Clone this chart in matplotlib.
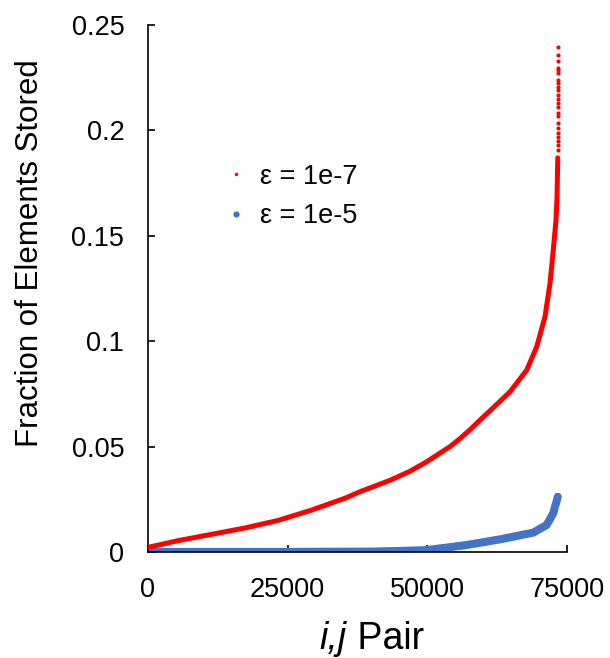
import numpy as np
import matplotlib
matplotlib.use('Agg')
import matplotlib.pyplot as plt
from matplotlib.lines import Line2D

plt.rcParams['font.family'] = ['Liberation Sans', 'DejaVu Sans']

# red curve, eps = 1e-7
red_x = [0, 5420, 11400, 17360, 23320, 29300, 35260, 37950, 43320, 46900, 49880, 54060, 55850, 57640, 59430,
         61220, 64800, 67790, 69580, 71060, 71960, 72550, 73030, 73210, 73350]
red_y = [0.0022, 0.0054, 0.0084, 0.0114, 0.0150, 0.0199, 0.0255, 0.0286, 0.0340, 0.0383, 0.0428, 0.0500, 0.0538, 0.0580, 0.0626,
         0.0670, 0.0760, 0.0863, 0.0974, 0.1116, 0.1275, 0.1433, 0.1575, 0.1680, 0.1870]
# the scattered dots at the very top end
red_top_x = 73400
red_top_y = [0.2396, 0.2358, 0.2331, 0.2296, 0.2285, 0.2273, 0.2239, 0.2225, 0.2206, 0.2190,
             0.2170, 0.2150, 0.2130, 0.2110, 0.2083, 0.2068, 0.2035, 0.2010, 0.1990, 0.1970,
             0.1950, 0.1930, 0.1907]

# blue curve, eps = 1e-5
blue_x = [0, 20000, 40000, 45110, 49880, 57040, 63010, 68970, 71360, 72550, 72850, 73140, 73340]
blue_y = [0.0, 0.0, 0.0002, 0.0005, 0.0009, 0.0033, 0.0060, 0.0092, 0.0128, 0.0184, 0.0215, 0.0240, 0.0262]

x_ticks = [0, 25000, 50000, 75000]
y_ticks = [0, 0.05, 0.1, 0.15, 0.2, 0.25]
y_tick_labels = ['0', '0.05', '0.1', '0.15', '0.2', '0.25']

red = '#FF0000'
blue = '#4472C4'

fig = plt.figure(figsize=(6.1, 6.58), dpi=100)
ax = fig.add_axes([0.2426, 0.1611, 0.6869, 0.8009])

ax.plot(blue_x, blue_y, color=blue, lw=5.8, solid_capstyle='round', solid_joinstyle='round', zorder=2)
ax.plot(red_x, red_y, color=red, lw=3.6, solid_capstyle='round', solid_joinstyle='round', zorder=3)
ax.scatter([red_top_x] * len(red_top_y), red_top_y, s=9, color=red, lw=0, zorder=3)

ax.set_xlim(0, 75000)
ax.set_ylim(0, 0.25)
ax.set_xticks(x_ticks)
ax.set_xticklabels([str(v) for v in x_ticks])
ax.set_yticks(y_ticks)
ax.set_yticklabels(y_tick_labels)

for s in ['top', 'right']:
    ax.spines[s].set_visible(False)
for s in ['left', 'bottom']:
    ax.spines[s].set_linewidth(1.2)
ax.tick_params(direction='in', length=5, width=1.2, labelsize=19.5)
ax.tick_params(axis='y', pad=17)
ax.tick_params(axis='x', pad=18)

# x label: italic i,j + normal Pair
ax.text(0.475, -0.184, 'i,j', transform=ax.transAxes, fontsize=27, style='italic',
        ha='right', va='baseline')
ax.text(0.475, -0.184, ' Pair', transform=ax.transAxes, fontsize=27,
        ha='left', va='baseline')
ax.set_ylabel('Fraction of Elements Stored', fontsize=22.5)
ax.yaxis.set_label_coords(-0.246, 0.567)

handles = [Line2D([], [], ls='', marker='o', ms=2.5, color=red, mec='none'),
           Line2D([], [], ls='', marker='o', ms=4.5, color=blue, mec='none')]
ax.legend(handles, ['ε = 1e-7', 'ε = 1e-5'], frameon=False, fontsize=19.5,
          loc='upper left', bbox_to_anchor=(0.132, 0.783), handlelength=0.6,
          handletextpad=0.6, labelspacing=0.5)

fig.savefig('out.png', dpi=100)
